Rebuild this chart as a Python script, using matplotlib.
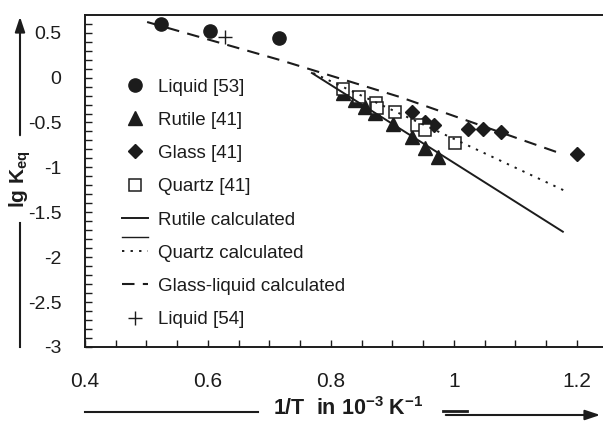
import matplotlib
matplotlib.use("Agg")
import matplotlib.pyplot as plt
from matplotlib.lines import Line2D
from matplotlib.ticker import MultipleLocator, FuncFormatter

plt.rcParams["font.family"] = ["Liberation Sans", "DejaVu Sans"]
INK = "#1c1c1c"

# measured equilibrium constants, lg K vs 1/T (10^-3 K^-1)
liquid53_x = [0.524, 0.603, 0.715]
liquid53_y = [0.597, 0.519, 0.441]

liquid54_x = [0.628]
liquid54_y = [0.452]

rutile_x = [0.820, 0.839, 0.855, 0.872, 0.901, 0.932, 0.953, 0.974]
rutile_y = [-0.171, -0.249, -0.327, -0.394, -0.517, -0.661, -0.784, -0.884]

glass_x = [0.932, 0.953, 0.968, 1.023, 1.047, 1.076, 1.200]
glass_y = [-0.383, -0.494, -0.528, -0.572, -0.572, -0.606, -0.851]

quartz_x = [0.820, 0.846, 0.873, 0.875, 0.904, 0.940, 0.953, 1.002]
quartz_y = [-0.127, -0.216, -0.283, -0.339, -0.383, -0.528, -0.583, -0.728]

# calculated curves
rutile_calc_x = [0.769, 1.177]
rutile_calc_y = [0.051, -1.716]
quartz_calc_x = [0.771, 1.180]
quartz_calc_y = [0.051, -1.260]
glassliq_calc_x = [0.501, 0.717, 0.912, 1.176]
glassliq_calc_y = [0.619, 0.196, -0.216, -0.851]

fig = plt.figure(figsize=(6.03, 4.21), dpi=100)
ax = fig.add_axes([85 / 603, 1 - 347 / 421, 518 / 603, 332 / 421])

h_l53, = ax.plot(liquid53_x, liquid53_y, "o", ms=9.5, color=INK, ls="none",
                 label="Liquid [53]")
h_rut, = ax.plot(rutile_x, rutile_y, "^", ms=10, color=INK, ls="none",
                 label="Rutile [41]")
h_gla, = ax.plot(glass_x, glass_y, "D", ms=7.3, color=INK, ls="none",
                 label="Glass [41]")
h_qua, = ax.plot(quartz_x, quartz_y, "s", ms=8.5, mfc="white", mec=INK, mew=1.1,
                 ls="none", label="Quartz [41]")
h_rc, = ax.plot(rutile_calc_x, rutile_calc_y, "-", lw=1.4, color=INK,
                label="Rutile calculated")
h_qc, = ax.plot(quartz_calc_x, quartz_calc_y, lw=1.4, color=INK,
                ls=(0, (1.2, 3.2)), label="Quartz calculated")
h_gc, = ax.plot(glassliq_calc_x, glassliq_calc_y, lw=1.5, color=INK,
                ls=(0, (6, 4)), label="Glass-liquid calculated")
h_l54, = ax.plot(liquid54_x, liquid54_y, "+", ms=10, mew=1.0, color=INK,
                 ls="none", label="Liquid [54]")

leg = ax.legend(handles=[h_l53, h_rut, h_gla, h_qua, h_rc, h_qc, h_gc, h_l54],
                loc="upper left", bbox_to_anchor=(0.071, 0.809), frameon=False,
                fontsize=13.5, handlelength=1.4, handletextpad=0.55,
                labelspacing=0.86, borderpad=0, borderaxespad=0, numpoints=1)
for t in leg.get_texts():
    t.set_color(INK)
# stray short rule between the two calculated entries
ax.plot([0.0714, 0.1216], [0.331, 0.331], lw=1.0, color=INK,
        transform=ax.transAxes, clip_on=False)

ax.set_xlim(0.4, 1.2423)
ax.set_ylim(-3, 0.697)
ax.xaxis.set_major_locator(MultipleLocator(0.2))
ax.xaxis.set_minor_locator(MultipleLocator(0.05))
ax.yaxis.set_major_locator(MultipleLocator(0.5))
ax.yaxis.set_minor_locator(MultipleLocator(0.1))
ax.xaxis.set_major_formatter(FuncFormatter(lambda v, p: f"{v:g}"))
ax.yaxis.set_major_formatter(FuncFormatter(lambda v, p: "0" if abs(v) < 1e-9 else f"{v:g}"))
ax.tick_params(which="both", direction="in", length=5, width=1.0, color=INK,
               colors=INK)
ax.tick_params(axis="x", labelsize=15, pad=18)
ax.tick_params(axis="y", labelsize=14, pad=17)
ax.spines["right"].set_visible(False)
for s in ("left", "bottom", "top"):
    ax.spines[s].set_linewidth(1.4)
    ax.spines[s].set_color(INK)

# axis labels with arrows
fig.text(20 / 603, 1 - 179 / 421, r"lg K$_\mathregular{eq}$", rotation=90,
         ha="center", va="center", fontsize=15, fontweight="bold", color=INK)
fig.add_artist(Line2D([20 / 603, 20 / 603], [1 - 223 / 421, 1 - 347 / 421],
                      lw=1.5, color=INK))
ax.annotate("", xy=(20, 421 - 14), xytext=(20, 421 - 138), xycoords="figure pixels",
            textcoords="figure pixels",
            arrowprops=dict(arrowstyle="-|>,head_length=0.9,head_width=0.3",
                            lw=1.5, color=INK))

fig.text(348 / 603, 1 - 409 / 421, r"1/T  in 10$^\mathregular{-3}$ K$^\mathregular{-1}$",
         ha="center", va="center", fontsize=15.5, fontweight="bold", color=INK)
fig.add_artist(Line2D([85 / 603, 258 / 603], [1 - 412 / 421, 1 - 412 / 421],
                      lw=1.5, color=INK))
fig.add_artist(Line2D([443 / 603, 467 / 603], [1 - 411 / 421, 1 - 411 / 421],
                      lw=2.0, color=INK))
ax.annotate("", xy=(603, 421 - 415), xytext=(443, 421 - 415), xycoords="figure pixels",
            textcoords="figure pixels",
            arrowprops=dict(arrowstyle="-|>,head_length=0.9,head_width=0.3",
                            lw=1.5, color=INK))

fig.savefig("out.png", dpi=100)
